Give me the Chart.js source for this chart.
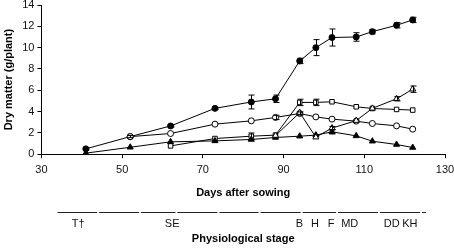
<!DOCTYPE html>
<html lang="en">
<head>
    <meta charset="UTF-8">
    <title>Dry matter by days after sowing</title>
    <script src="https://cdn.jsdelivr.net/npm/chart.js"></script>
    <style>
        body { margin: 0; background: #fff; }
        #box { width: 454px; height: 248px; }
    </style>
</head>
<body>
    <div id="box"><canvas id="grafico"></canvas></div>

    <script>
        // data
        const days = [41, 52, 62, 73, 82, 88, 94, 98, 102, 108, 112, 118, 122];
        const filledCircle = [0.5, 1.65, 2.65, 4.3, 4.9, 5.2, 8.75, 10.0, 10.95, 11.0, 11.5, 12.1, 12.6];
        const filledCircleErr = [0.1, 0.1, 0.1, 0.1, 0.65, 0.35, 0.25, 0.75, 0.8, 0.4, 0.2, 0.25, 0.25];
        const openCircle = [null, 1.65, 1.94, 2.82, 3.13, 3.45, 3.82, 3.5, 3.29, 3.1, 2.88, 2.66, 2.35];
        const openCircleErr = [0, 0, 0, 0, 0, 0.2, 0.15, 0, 0, 0, 0, 0, 0];
        const openSquare = [null, null, 0.78, 1.47, 1.69, 1.79, 4.86, 4.86, 4.92, 4.45, 4.29, 4.2, 4.14];
        const openSquareErr = [0, 0, 0, 0, 0.3, 0, 0.3, 0.3, 0, 0, 0, 0, 0];
        const filledTriangle = [0.1, 0.65, 1.16, 1.25, 1.38, 1.57, 1.69, 1.79, 2.1, 1.72, 1.22, 0.91, 0.63];
        const filledTriangleErr = [0, 0, 0, 0, 0, 0, 0, 0, 0.2, 0, 0, 0, 0];
        const openTriangle = [null, null, null, null, null, 1.75, 3.9, 1.6, 2.45, 3.15, 4.3, 5.2, 6.1];
        const openTriangleErr = [0, 0, 0, 0, 0, 0, 0, 0, 0.15, 0, 0, 0.2, 0.3];

        const xTicks = [30, 50, 70, 90, 110, 130];
        const yTicks = [0, 2, 4, 6, 8, 10, 12, 14];

        // physiological stage row (positions in days)
        const stageLabels = ['T\u2020', 'SE', 'B', 'H', 'F', 'MD', 'DD', 'KH'];
        const stagePos = [39.1, 62.4, 93.9, 97.8, 101.8, 106.4, 116.8, 121.3];
        const stageBreaks = [34, 44.3, 54.7, 63.7, 74.1, 84.3, 94.75, 103.5, 113.9, 124.3, 125.8];

        const fonte = "'Liberation Sans', Arial, sans-serif";

        function serie(valores, erros, estilo, fundo, raio) {
            return {
                data: days.map((d, i) => ({ x: d, y: valores[i] })),
                erros: erros,
                borderColor: '#000',
                borderWidth: 1,
                pointStyle: estilo,
                pointRadius: raio,
                pointBackgroundColor: fundo,
                pointBorderColor: '#000',
                pointBorderWidth: 1,
                spanGaps: false,
                tension: 0
            };
        }

        const barrasErro = {
            id: 'barrasErro',
            afterDatasetsDraw(chart) {
                const ctx = chart.ctx;
                const x = chart.scales.x, y = chart.scales.y;
                ctx.save();
                ctx.strokeStyle = '#000';
                ctx.lineWidth = 1;
                chart.data.datasets.forEach(ds => {
                    ds.data.forEach((p, i) => {
                        const e = ds.erros[i];
                        if (p.y == null || !e) return;
                        const px = Math.round(x.getPixelForValue(p.x)) + 0.5;
                        const y1 = y.getPixelForValue(p.y - e);
                        const y2 = y.getPixelForValue(p.y + e);
                        ctx.beginPath();
                        ctx.moveTo(px, y1); ctx.lineTo(px, y2);
                        ctx.moveTo(px - 3, y1); ctx.lineTo(px + 3, y1);
                        ctx.moveTo(px - 3, y2); ctx.lineTo(px + 3, y2);
                        ctx.stroke();
                    });
                });
                ctx.restore();
            }
        };

        const linhaEstagio = {
            id: 'linhaEstagio',
            afterDraw(chart) {
                const s = chart.scales.estagio;
                const ctx = chart.ctx;
                const yy = Math.round(s.top + 12) + 0.5;
                ctx.save();
                ctx.strokeStyle = '#222';
                ctx.lineWidth = 1;
                for (let i = 0; i < stageBreaks.length - 1; i++) {
                    const a = s.getPixelForValue(stageBreaks[i]);
                    const b = s.getPixelForValue(stageBreaks[i + 1]) - 2;
                    ctx.beginPath();
                    ctx.moveTo(a, yy); ctx.lineTo(b, yy);
                    ctx.stroke();
                }
                ctx.restore();
            }
        };

        new Chart(document.getElementById('grafico'), {
            type: 'line',
            data: {
                datasets: [
                    serie(openTriangle, openTriangleErr, 'triangle', '#fff', 3.5),
                    serie(filledTriangle, filledTriangleErr, 'triangle', '#000', 3.5),
                    serie(openSquare, openSquareErr, 'rect', '#fff', 3.2),
                    serie(openCircle, openCircleErr, 'circle', '#fff', 3),
                    serie(filledCircle, filledCircleErr, 'circle', '#000', 3)
                ]
            },
            options: {
                responsive: true,
                maintainAspectRatio: false,
                animation: false,
                layout: { padding: { top: 0, right: 0, left: 2, bottom: 0 } },
                plugins: { legend: { display: false }, tooltip: { enabled: false } },
                scales: {
                    x: {
                        type: 'linear',
                        position: 'bottom',
                        weight: 1,
                        min: 30, max: 130,
                        afterBuildTicks: s => { s.ticks = xTicks.map(v => ({ value: v })); },
                        afterFit: s => { s.paddingRight = 9; },
                        grid: { display: true, drawOnChartArea: false, drawTicks: true, tickLength: 4, color: '#000' },
                        border: { display: true, color: '#000' },
                        ticks: { color: '#111', font: { family: fonte, size: 11 }, padding: 5, maxRotation: 0 },
                        title: { display: true, text: 'Days after sowing', color: '#000',
                                 font: { family: fonte, size: 11, weight: 'bold' }, padding: { top: 5, bottom: 0 } }
                    },
                    estagio: {
                        type: 'linear',
                        position: 'bottom',
                        weight: 2,
                        min: 30, max: 130,
                        afterBuildTicks: s => { s.ticks = stagePos.map(v => ({ value: v })); },
                        afterFit: s => { s.paddingRight = 0; s.paddingLeft = 0; },
                        grid: { display: false, drawTicks: false },
                        border: { display: false },
                        ticks: { color: '#111', font: { family: fonte, size: 11 }, padding: 18, maxRotation: 0,
                                 autoSkip: false, callback: (v, i) => stageLabels[i] },
                        title: { display: true, text: 'Physiological stage', color: '#000',
                                 font: { family: fonte, size: 11, weight: 'bold' }, padding: { top: -16, bottom: 2 } }
                    },
                    y: {
                        min: 0, max: 14,
                        afterBuildTicks: s => { s.ticks = yTicks.map(v => ({ value: v })); },
                        afterFit: s => { s.paddingTop = 5; },
                        grid: { display: true, drawOnChartArea: false, drawTicks: true, tickLength: 4, color: '#000' },
                        border: { display: true, color: '#000' },
                        ticks: { color: '#111', font: { family: fonte, size: 11 }, padding: 3 },
                        title: { display: true, text: 'Dry matter (g/plant)', color: '#000',
                                 font: { family: fonte, size: 11, weight: 'bold' }, padding: { top: 0, bottom: 4 } }
                    }
                }
            },
            plugins: [barrasErro, linhaEstagio]
        });
    </script>
</body>
</html>
